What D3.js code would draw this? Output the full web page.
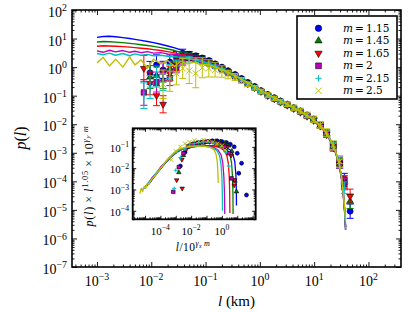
<!DOCTYPE html>
<html>
<head>
<meta charset="utf-8">
<script src="https://cdn.jsdelivr.net/npm/d3@7"></script>
<style>
  body { margin: 0; background: #fff; }
  svg { display: block; }
</style>
</head>
<body>
<div id="viz"></div>
<script>

// ---------- data ----------
const mLabels = ["1.15", "1.45", "1.65", "2", "2.15", "2.5"];
const colors = ["#0000ff", "#008000", "#ff0000", "#bf00bf", "#00bfbf", "#bfbf00"];
const markerKinds = ["circle", "triangleUp", "triangleDown", "square", "plus", "cross"];

// simulation curves, main panel
const lineL = [0.001, 0.0013, 0.0017, 0.0022, 0.003, 0.004, 0.005, 0.0065, 0.0085, 0.011, 0.015, 0.02, 0.027, 0.035, 0.047, 0.062, 0.082, 0.11, 0.15, 0.2, 0.27,
  0.36, 0.48, 0.65, 0.87, 1.15, 1.55, 2.1, 2.8, 3.7, 5, 6.6, 8.8, 11.7, 15.6, 20.8, 25, 29, 32, 34.5, 36.5, 38];
const lineP115 = [11, 11.8, 12, 11.6, 10.8, 10, 9.4, 8.6, 7.9, 7.2, 6.3, 5.5, 4.7, 4.0, 3.3, 2.7, 2.2, 1.75, 1.35, 1.02, 0.75,
  0.55, 0.4, 0.28, 0.2, 0.145, 0.105, 0.078, 0.058, 0.044, 0.033, 0.024, 0.017, 0.011, 0.0062, 0.0025, 0.0011, 0.0004, 0.00014, 4e-5, 1e-5, 2.5e-6];
const lineP145 = [7.6, 7.9, 7.7, 7.5, 7.2, 6.8, 6.5, 6.1, 5.7, 5.3, 4.8, 4.3, 3.8, 3.3, 2.8, 2.35, 1.95, 1.6, 1.25, 0.97, 0.72,
  0.53, 0.39, 0.275, 0.195, 0.14, 0.1, 0.075, 0.056, 0.042, 0.031, 0.023, 0.016, 0.0105, 0.006, 0.0024, 0.001, 0.00038, 0.00013, 3.5e-5, 9e-6, 2.5e-6];
const lineP165 = [5.4, 5.6, 5.5, 5.4, 5.2, 5.0, 4.8, 4.6, 4.4, 4.1, 3.8, 3.5, 3.15, 2.8, 2.45, 2.1, 1.78, 1.48, 1.18, 0.93, 0.7,
  0.51, 0.37, 0.265, 0.19, 0.135, 0.097, 0.072, 0.053, 0.04, 0.029, 0.021, 0.015, 0.0098, 0.0056, 0.0022, 0.00095, 0.00035, 0.00012, 3e-5, 8e-6, 2e-6];
const lineP2 = [3.7, 3.3, 3.9, 3.4, 3.8, 3.3, 3.6, 3.2, 3.5, 3.1, 3.2, 2.9, 2.8, 2.6, 2.3, 2.0, 1.75, 1.45, 1.15, 0.9, 0.68,
  0.5, 0.37, 0.26, 0.19, 0.135, 0.098, 0.073, 0.055, 0.041, 0.03, 0.022, 0.0155, 0.01, 0.0058, 0.0023, 0.001, 0.00037, 0.00013, 3.5e-5, 9e-6, 2e-6];
const lineP215 = [3.0, 2.7, 3.1, 2.6, 3.0, 2.5, 2.9, 2.6, 2.8, 2.5, 2.6, 2.4, 2.3, 2.2, 2.0, 1.8, 1.6, 1.35, 1.1, 0.87, 0.66,
  0.5, 0.37, 0.265, 0.19, 0.137, 0.1, 0.074, 0.055, 0.042, 0.031, 0.0225, 0.016, 0.0102, 0.0059, 0.0024, 0.001, 0.00038, 0.00013, 3.5e-5, 9e-6, 2e-6];
const lineP25 = [1.4, 2.2, 1.1, 1.9, 1.0, 2.3, 1.2, 1.8, 0.9, 1.9, 1.3, 1.7, 1.05, 1.6, 1.3, 1.5, 1.2, 1.25, 1.0, 0.8, 0.62,
  0.48, 0.36, 0.26, 0.19, 0.14, 0.1, 0.075, 0.057, 0.043, 0.032, 0.023, 0.0165, 0.0105, 0.006, 0.0025, 0.0011, 0.0004, 0.00015, 4e-5, 1.2e-5, 4e-6];

// empirical points with error bars, main panel
const empL = [0.0073, 0.0095, 0.0125, 0.0165, 0.022, 0.029, 0.038, 0.05, 0.066, 0.087, 0.115, 0.15, 0.2, 0.26, 0.35, 0.46, 0.6, 0.8,
  1.05, 1.4, 1.85, 2.4, 3.2, 4.2, 5.6, 7.4, 9.8, 13, 17, 22.5, 29.5, 36, 46];
const empP115 = [null, 0.63, 1.2, 0.8, 1.5, 2.2, 3.0, 2.8, 2.5, 2.1, 1.7, 1.3, 1.0, 0.75, 0.55, 0.4, 0.29, 0.21,
  0.15, 0.11, 0.085, 0.065, 0.05, 0.038, 0.029, 0.021, 0.015, 0.0095, 0.005, 0.0019, 0.0005, 0.00012, 9e-6];
const empP145 = [null, 0.45, 0.5, 0.35, 0.9, 1.6, 2.4, 2.5, 2.2, 1.9, 1.55, 1.2, 0.92, 0.7, 0.52, 0.38, 0.28, 0.2,
  0.145, 0.105, 0.08, 0.062, 0.048, 0.037, 0.028, 0.02, 0.0145, 0.009, 0.0047, 0.0017, 0.00045, 0.0001, 2e-5];
const empP165 = [0.9, 0.27, 0.1, 0.05, 0.6, 1.2, 2.0, 2.3, 2.1, 1.8, 1.45, 1.15, 0.88, 0.66, 0.5, 0.36, 0.26, 0.19,
  0.14, 0.1, 0.077, 0.059, 0.046, 0.035, 0.026, 0.019, 0.0135, 0.0085, 0.0043, 0.0015, 0.0004, 9e-5, 3e-5];
const empP2 = [0.13, null, 0.3, 0.7, 0.4, 1.0, 1.8, 2.1, 1.9, 1.65, 1.35, 1.08, 0.83, 0.64, 0.48, 0.36, 0.26, 0.19,
  0.14, 0.102, 0.078, 0.06, 0.047, 0.036, 0.027, 0.0195, 0.014, 0.0088, 0.0044, 0.0016, 0.0004, 8e-5, null];
const empP215 = [0.1, 0.2, 0.45, 0.3, 0.7, 1.1, 1.6, 1.9, 1.8, 1.55, 1.3, 1.05, 0.82, 0.63, 0.48, 0.36, 0.26, 0.19,
  0.14, 0.104, 0.079, 0.061, 0.047, 0.036, 0.028, 0.02, 0.0143, 0.009, 0.0046, 0.0017, 0.00042, 6e-5, null];
const empP25 = [null, null, null, 0.25, 0.4, 0.6, 0.9, 0.75, 0.6, 0.95, 0.9, 0.8, 0.7, 0.55, 0.45, 0.34, 0.25, 0.19,
  0.14, 0.105, 0.08, 0.062, 0.05, 0.038, 0.029, 0.021, 0.015, 0.0095, 0.005, 0.0018, 0.0005, null, null];
// error bar half widths in decades
const errDec = [0.45, 0.4, 0.35, 0.3, 0.25, 0.2, 0.15, 0.1, 0.08, 0.07, 0.06, 0.05, 0.045, 0.04, 0.04, 0.04, 0.04, 0.04,
  0.04, 0.04, 0.04, 0.04, 0.045, 0.05, 0.055, 0.06, 0.07, 0.08, 0.1, 0.12, 0.15, 0.2, 0.25];
const errDec25 = [0, 0, 0, 0.5, 0.45, 0.4, 0.35, 0.45, 0.5, 0.35, 0.3, 0.25, 0.2, 0.15, 0.12, 0.1, 0.08, 0.08,
  0.08, 0.08, 0.08, 0.08, 0.08, 0.09, 0.1, 0.1, 0.11, 0.12, 0.14, 0.16, 0.2, 0.25, 0.3];

// inset curves, log10 of x and y
const inLineX115 = [-4.75, -4.5, -4.2, -3.9, -3.6, -3.3, -3.0, -2.7, -2.4, -2.0, -1.6, -1.2, -0.8, -0.4, 0.0, 0.3, 0.55, 0.72, 0.84, 0.91, 0.94, 0.95];
const inLineY115 = [-2.75, -2.5, -2.22, -1.95, -1.7, -1.48, -1.3, -1.16, -1.07, -1.0, -0.97, -0.95, -0.94, -0.95, -0.98, -1.04, -1.15, -1.35, -1.7, -2.3, -3.0, -3.75];
const inLineX145 = [-4.9, -4.6, -4.3, -4.0, -3.7, -3.4, -3.1, -2.8, -2.5, -2.1, -1.7, -1.3, -0.9, -0.5, -0.15, 0.15, 0.38, 0.53, 0.63, 0.69, 0.72, 0.73];
const inLineY145 = [-2.85, -2.57, -2.3, -2.03, -1.77, -1.53, -1.33, -1.18, -1.08, -1.01, -0.98, -0.96, -0.95, -0.96, -0.99, -1.05, -1.17, -1.38, -1.75, -2.4, -3.2, -4.15];
const inLineX165 = [-5.0, -4.7, -4.4, -4.1, -3.8, -3.5, -3.2, -2.9, -2.6, -2.2, -1.8, -1.4, -1.0, -0.6, -0.3, -0.05, 0.17, 0.32, 0.42, 0.48, 0.51, 0.52];
const inLineY165 = [-2.92, -2.65, -2.37, -2.1, -1.83, -1.58, -1.37, -1.2, -1.1, -1.02, -0.99, -0.97, -0.96, -0.97, -1.0, -1.06, -1.18, -1.4, -1.78, -2.4, -3.2, -4.1];
const inLineX2 = [-5.15, -4.85, -4.55, -4.25, -3.95, -3.65, -3.35, -3.05, -2.75, -2.35, -1.95, -1.55, -1.15, -0.8, -0.5, -0.25, -0.05, 0.06, 0.13, 0.17, 0.19];
const inLineY2 = [-3.0, -2.78, -2.45, -2.22, -1.92, -1.7, -1.46, -1.28, -1.14, -1.04, -1.0, -0.98, -0.97, -0.99, -1.04, -1.15, -1.38, -1.75, -2.4, -3.2, -4.15];
const inLineX215 = [-5.2, -4.9, -4.6, -4.3, -4.0, -3.7, -3.4, -3.1, -2.8, -2.4, -2.0, -1.6, -1.2, -0.85, -0.55, -0.32, -0.15, -0.06, 0.0, 0.03, 0.04];
const inLineY215 = [-3.05, -2.8, -2.55, -2.25, -2.0, -1.75, -1.52, -1.32, -1.16, -1.05, -1.0, -0.98, -0.98, -1.0, -1.06, -1.18, -1.42, -1.8, -2.4, -3.2, -4.0];
const inLineX25 = [-5.33, -5.25, -5.15, -5.05, -4.95, -4.85, -4.75, -4.6, -4.4, -4.2, -4.0, -3.8, -3.6, -3.4, -3.2, -3.0, -2.7, -2.4, -2.1, -1.8, -1.5, -1.2, -0.9, -0.7, -0.5, -0.38, -0.3, -0.26, -0.24];
const inLineY25 = [-3.2, -2.95, -3.1, -2.85, -2.95, -2.7, -2.75, -2.55, -2.4, -2.2, -2.02, -1.83, -1.65, -1.48, -1.33, -1.2, -1.08, -1.02, -0.98, -0.96, -0.96, -0.97, -1.0, -1.05, -1.15, -1.35, -1.7, -2.2, -2.7];

// inset points, log10 of x and y
const inPtX115 = [-2.7, -2.4, -2.1, -1.8, -1.5, -1.2, -0.9, -0.6, -0.3, 0.0, 0.3, 0.55, 0.8, 1.0, 1.28, 1.1, 1.6];
const inPtY115 = [-1.9, -1.25, -0.95, -0.85, -0.8, -0.78, -0.75, -0.72, -0.72, -0.75, -0.8, -0.88, -1.0, -1.3, -1.77, -2.24, -3.26];
const inPtX145 = [-2.8, -2.5, -2.2, -1.9, -1.6, -1.3, -1.0, -0.7, -0.4, -0.1, 0.2, 0.45, 0.65, 0.85, 0.95];
const inPtY145 = [-2.2, -1.4, -1.0, -0.88, -0.82, -0.8, -0.77, -0.75, -0.74, -0.76, -0.82, -0.95, -1.2, -2.6, -3.1];
const inPtX165 = [-2.94, -2.58, -2.6, -2.3, -2.0, -1.7, -1.4, -1.1, -0.8, -0.5, -0.2, 0.1, 0.35, 0.6, 0.84, 0.8];
const inPtY165 = [-2.56, -2.95, -1.6, -1.1, -0.92, -0.85, -0.8, -0.78, -0.76, -0.76, -0.8, -0.88, -1.0, -1.4, -2.56, -2.8];
const inPtX2 = [-3.16, -2.8, -2.5, -2.2, -1.9, -1.6, -1.3, -1.0, -0.7, -0.4, -0.1, 0.2, 0.45, 0.63];
const inPtY2 = [-3.11, -1.95, -1.3, -0.98, -0.88, -0.82, -0.78, -0.76, -0.76, -0.8, -0.86, -1.0, -1.3, -2.48];
const inPtX215 = [-3.1, -3.0, -2.7, -2.4, -2.1, -1.8, -1.5, -1.2, -0.9, -0.6, -0.3, 0.0, 0.25, 0.45];
const inPtY215 = [-2.95, -2.1, -1.5, -1.1, -0.92, -0.84, -0.8, -0.78, -0.77, -0.8, -0.86, -0.98, -1.25, -1.9];
const inPtX25 = [-3.3, -3.0, -2.7, -2.4, -2.1, -1.8, -1.5, -1.2, -0.9, -0.6, -0.3, 0.0, 0.2];
const inPtY25 = [-1.6, -1.2, -1.0, -0.85, -0.78, -0.7, -0.75, -0.68, -0.72, -0.78, -0.85, -0.95, -1.15];

const mainXTicks = [-3, -2, -1, 0, 1, 2];
const mainYTicks = [2, 1, 0, -1, -2, -3, -4, -5, -6, -7];
const insetXLabels = [-4, -2, 0];
const insetYLabels = [-1, -2, -3, -4];

// ---------- series table ----------
const lineP = [lineP115, lineP145, lineP165, lineP2, lineP215, lineP25];
const empP = [empP115, empP145, empP165, empP2, empP215, empP25];
const inLX = [inLineX115, inLineX145, inLineX165, inLineX2, inLineX215, inLineX25];
const inLY = [inLineY115, inLineY145, inLineY165, inLineY2, inLineY215, inLineY25];
const inPX = [inPtX115, inPtX145, inPtX165, inPtX2, inPtX215, inPtX25];
const inPY = [inPtY115, inPtY145, inPtY165, inPtY2, inPtY215, inPtY25];

const series = mLabels.map((m, i) => ({
  m: m,
  color: colors[i],
  kind: markerKinds[i],
  line: lineL.map((l, j) => ({l: l, p: lineP[i][j]})),
  pts: empL.map((l, j) => ({l: l, p: empP[i][j], e: i === 5 ? errDec25[j] : errDec[j]})).filter(d => d.p != null),
  inLine: inLX[i].map((v, j) => ({x: 10 ** v, y: 10 ** inLY[i][j]})),
  inPts: inPX[i].map((v, j) => ({x: 10 ** v, y: 10 ** inPY[i][j]}))
}));

// ---------- layout ----------
const W = 415, H = 312;
const box = {left: 72, right: 401, top: 10, bottom: 267};
const ibox = {left: 132.7, right: 255.7, top: 128.3, bottom: 219.3};

const svg = d3.select("#viz").append("svg")
  .attr("width", W).attr("height", H)
  .style("font-family", "'Liberation Serif', 'DejaVu Serif', serif");

const x = d3.scaleLog().domain([10 ** -3.46, 10 ** 2.6]).range([box.left, box.right]);
const y = d3.scaleLog().domain([1e-7, 1e2]).range([box.bottom, box.top]);
const xi = d3.scaleLog().domain([10 ** -5.8, 10 ** 2.2]).range([ibox.left, ibox.right]);
const yi = d3.scaleLog().domain([10 ** -4.4, 10 ** -0.13]).range([ibox.bottom, ibox.top]);

const defs = svg.append("defs");
defs.append("clipPath").attr("id", "clipMain").append("rect")
  .attr("x", box.left).attr("y", box.top).attr("width", box.right - box.left).attr("height", box.bottom - box.top);
defs.append("clipPath").attr("id", "clipInset").append("rect")
  .attr("x", ibox.left).attr("y", ibox.top).attr("width", ibox.right - ibox.left).attr("height", ibox.bottom - ibox.top);

// ---------- helpers ----------
function minorTicks(domain) {
  let out = [];
  let lo = Math.floor(Math.log10(domain[0])), hi = Math.ceil(Math.log10(domain[1]));
  for (let e = lo; e <= hi; e++) {
    for (let k = 2; k <= 9; k++) {
      let v = k * 10 ** e;
      if (v >= domain[0] && v <= domain[1]) out.push(v);
    }
  }
  return out;
}

function decades(domain) {
  let out = [];
  for (let e = Math.ceil(Math.log10(domain[0]) - 1e-9); e <= Math.floor(Math.log10(domain[1]) + 1e-9); e++) out.push(10 ** e);
  return out;
}

function drawTicks(xs, ys, b, majLen, minLen) {
  let xMaj = decades(xs.domain()), yMaj = decades(ys.domain());
  let xMin = minorTicks(xs.domain()), yMin = minorTicks(ys.domain());
  let g = svg.append("g").attr("class", "ticks");
  [[xMaj, majLen], [xMin, minLen]].forEach(([vals, len]) => {
    g.append("g").attr("transform", `translate(0,${b.bottom})`)
      .call(d3.axisBottom(xs).tickValues(vals).tickSize(-len).tickSizeOuter(0).tickFormat(""));
    g.append("g").attr("transform", `translate(0,${b.top})`)
      .call(d3.axisTop(xs).tickValues(vals).tickSize(-len).tickSizeOuter(0).tickFormat(""));
  });
  [[yMaj, majLen], [yMin, minLen]].forEach(([vals, len]) => {
    g.append("g").attr("transform", `translate(${b.left},0)`)
      .call(d3.axisLeft(ys).tickValues(vals).tickSize(-len).tickSizeOuter(0).tickFormat(""));
    g.append("g").attr("transform", `translate(${b.right},0)`)
      .call(d3.axisRight(ys).tickValues(vals).tickSize(-len).tickSizeOuter(0).tickFormat(""));
  });
  g.selectAll(".domain").remove();
  g.selectAll(".tick line").attr("stroke", "#000").attr("stroke-width", 0.9);
}

function powLabel(g, px, py, exp, fs, anchor) {
  let t = g.append("text").attr("x", px).attr("y", py)
    .attr("text-anchor", anchor).attr("font-size", fs).attr("fill", "#000");
  t.append("tspan").text("10");
  t.append("tspan").attr("dy", -0.42 * fs).attr("font-size", fs * 0.7)
    .text(exp < 0 ? "\u2212" + (-exp) : String(exp));
}

// parts: [text, italic, level]  level 0 = base, 1 = superscript, 2 = subscript inside superscript
function richText(g, px, py, parts, fs, anchor, rotate) {
  let t = g.append("text").attr("text-anchor", anchor).attr("font-size", fs).attr("fill", "#000");
  if (rotate) t.attr("transform", `translate(${px},${py}) rotate(-90)`);
  else t.attr("x", px).attr("y", py);
  const off = [0, -0.42 * fs, -0.22 * fs];
  const size = [fs, fs * 0.7, fs * 0.5];
  let cur = 0;
  parts.forEach(([txt, it, lev]) => {
    t.append("tspan").attr("dy", off[lev] - cur).attr("font-size", size[lev])
      .attr("font-style", it ? "italic" : "normal").text(txt);
    cur = off[lev];
  });
  return t;
}

function marker(g, kind, color, size) {
  let s = size;
  if (kind === "plus") {
    return g.append("path").attr("d", `M${-s},0H${s}M0,${-s}V${s}`)
      .attr("stroke", color).attr("stroke-width", 1).attr("fill", "none");
  }
  if (kind === "cross") {
    return g.append("path").attr("d", `M${-s},${-s}L${s},${s}M${-s},${s}L${s},${-s}`)
      .attr("stroke", color).attr("stroke-width", 1).attr("fill", "none");
  }
  let sym, rot = 0, area;
  if (kind === "circle") { sym = d3.symbolCircle; area = Math.PI * s * s; }
  if (kind === "triangleUp") { sym = d3.symbolTriangle; area = 1.3 * s * s * 1.7; }
  if (kind === "triangleDown") { sym = d3.symbolTriangle; area = 1.3 * s * s * 1.7; rot = 180; }
  if (kind === "square") { sym = d3.symbolSquare; area = 4 * s * s * 0.8; }
  return g.append("path").attr("d", d3.symbol().type(sym).size(area)())
    .attr("transform", rot ? `rotate(${rot})` : null)
    .attr("fill", color).attr("stroke", "#000").attr("stroke-width", 0.6);
}

// ---------- main panel ----------
const plot = svg.append("g").attr("clip-path", "url(#clipMain)");
const lineGen = d3.line().x(d => x(d.l)).y(d => y(d.p));

series.forEach(s => {
  plot.append("path").datum(s.line)
    .attr("fill", "none").attr("stroke", s.color).attr("stroke-width", 1.4)
    .attr("stroke-linejoin", "round").attr("d", lineGen);

  let eb = plot.append("g").attr("stroke", s.color).attr("stroke-width", 1);
  s.pts.forEach(d => {
    let cx = x(d.l), y1 = y(d.p * 10 ** d.e), y2 = y(d.p / 10 ** d.e);
    eb.append("line").attr("x1", cx).attr("x2", cx).attr("y1", y1).attr("y2", y2);
    eb.append("line").attr("x1", cx - 3.5).attr("x2", cx + 3.5).attr("y1", y1).attr("y2", y1);
    eb.append("line").attr("x1", cx - 3.5).attr("x2", cx + 3.5).attr("y1", y2).attr("y2", y2);
  });
  s.pts.forEach(d => {
    let mg = plot.append("g").attr("transform", `translate(${x(d.l)},${y(d.p)})`);
    marker(mg, s.kind, s.color, 3);
  });
});

drawTicks(x, y, box, 5, 2.5);
svg.append("rect").attr("x", box.left).attr("y", box.top)
  .attr("width", box.right - box.left).attr("height", box.bottom - box.top)
  .attr("fill", "none").attr("stroke", "#000").attr("stroke-width", 1.6);

const labels = svg.append("g");
mainXTicks.forEach(e => powLabel(labels, x(10 ** e), 286, e, 14, "middle"));
mainYTicks.forEach(e => powLabel(labels, 67, y(10 ** e) + 7, e, 14, "end"));

richText(labels, 236.5, 306, [["l", true, 0], [" (km)", false, 0]], 15, "middle", false);
richText(labels, 26, 138, [["p", true, 0], ["(", false, 0], ["l", true, 0], [")", false, 0]], 16, "middle", true);

// ---------- legend ----------
const leg = svg.append("g");
leg.append("rect").attr("x", 297).attr("y", 16).attr("width", 100).attr("height", 83)
  .attr("fill", "#fff").attr("stroke", "#000").attr("stroke-width", 1.6);
series.forEach((s, i) => {
  let cy = 28.3 + i * 12.5;
  let mg = leg.append("g").attr("transform", `translate(318.5,${cy})`);
  marker(mg, s.kind, s.color, 3.2);
  richText(leg, 343, cy + 3.6, [["m", true, 0], ["\u2009=\u2009" + s.m, false, 0]], 10.5, "start", false)
    .style("font-family", "'DejaVu Serif', serif");
});

// ---------- inset ----------
svg.append("rect").attr("x", ibox.left).attr("y", ibox.top)
  .attr("width", ibox.right - ibox.left).attr("height", ibox.bottom - ibox.top).attr("fill", "#fff");
const inset = svg.append("g").attr("clip-path", "url(#clipInset)");
const inLineGen = d3.line().x(d => xi(d.x)).y(d => yi(d.y));
series.forEach(s => {
  inset.append("path").datum(s.inLine)
    .attr("fill", "none").attr("stroke", s.color).attr("stroke-width", 1.3)
    .attr("stroke-linejoin", "round").attr("d", inLineGen);
  s.inPts.forEach(d => {
    let mg = inset.append("g").attr("transform", `translate(${xi(d.x)},${yi(d.y)})`);
    marker(mg, s.kind, s.color, 2);
  });
});
drawTicks(xi, yi, ibox, 3.5, 2);
svg.append("rect").attr("x", ibox.left).attr("y", ibox.top)
  .attr("width", ibox.right - ibox.left).attr("height", ibox.bottom - ibox.top)
  .attr("fill", "none").attr("stroke", "#000").attr("stroke-width", 1.8);

insetXLabels.forEach(e => powLabel(labels, xi(10 ** e), 235, e, 11, "middle"));
insetYLabels.forEach(e => powLabel(labels, 129, yi(10 ** e) + 5, e, 11, "end"));

richText(labels, 193, 251, [["l", true, 0], ["/10", false, 0], ["\u03b3", true, 1], ["x", true, 2], ["\u2009m", true, 1]], 11.5, "middle", false)
  .attr("letter-spacing", 0.4);
richText(labels, 93, 176, [["p", true, 0], ["(", false, 0], ["l", true, 0], [")\u2009\u00d7\u2009", false, 0], ["l", true, 0], ["1.05", false, 1],
  ["\u2009\u00d7\u200910", false, 0], ["\u03b3", true, 1], ["y", true, 2], ["\u2009m", true, 1]], 12, "middle", true)
  .attr("letter-spacing", 0.8);

</script>
</body>
</html>
